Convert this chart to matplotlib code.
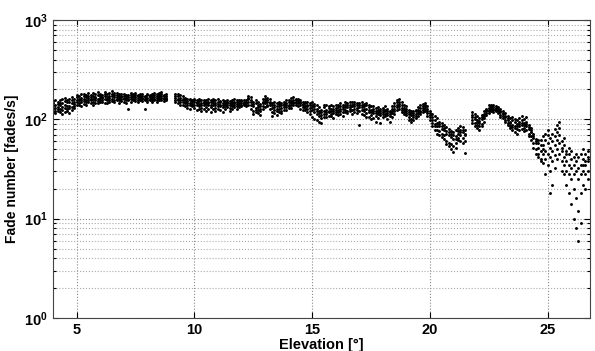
import matplotlib
matplotlib.use("Agg")
import matplotlib.pyplot as plt
import numpy as np

plt.rcParams['font.family'] = ['Liberation Sans', 'DejaVu Sans']
plt.rcParams['font.weight'] = 'bold'
plt.rcParams['mathtext.default'] = 'bf'

# each row: elevation [deg], then the fade numbers read at that elevation
seg_low_elev = [
    [4.0, 128, 145, 118, 152, 136], [4.1, 140, 122, 158, 131, 115],
    [4.2, 133, 150, 120, 143, 126], [4.3, 118, 138, 155, 127, 146],
    [4.4, 145, 125, 112, 160, 134], [4.5, 130, 152, 140, 118, 163],
    [4.6, 148, 127, 158, 136, 121], [4.7, 137, 162, 129, 150, 116],
    [4.8, 155, 134, 145, 168, 124], [4.9, 142, 160, 130, 151, 137],
    [5.0, 150, 168, 138, 158, 176], [5.1, 162, 145, 172, 155, 140],
    [5.2, 157, 180, 148, 165, 137], [5.3, 170, 152, 160, 143, 182],
    [5.4, 148, 166, 175, 156, 139], [5.5, 163, 185, 150, 172, 158],
    [5.6, 176, 155, 168, 145, 162], [5.7, 160, 172, 150, 183, 141],
    [5.8, 168, 156, 178, 147, 163], [5.9, 152, 174, 161, 188, 145],
    [6.0, 170, 158, 182, 148, 165], [6.1, 163, 176, 150, 168, 157],
    [6.2, 178, 160, 146, 172, 188], [6.3, 155, 168, 181, 160, 145],
    [6.4, 172, 150, 165, 185, 158], [6.5, 160, 178, 152, 170, 192],
    [6.6, 167, 148, 176, 158, 183], [6.7, 175, 162, 155, 186, 168],
    [6.8, 158, 173, 145, 165, 180], [6.9, 182, 160, 170, 152, 166],
    [7.0, 165, 150, 178, 160, 172], [7.1, 170, 158, 146, 175, 163],
    [7.2, 156, 176, 128, 168, 160], [7.3, 175, 160, 168, 150, 183],
    [7.4, 162, 172, 155, 178, 166], [7.5, 168, 152, 175, 160, 185],
    [7.6, 158, 170, 163, 148, 176], [7.7, 173, 160, 180, 166, 155],
    [7.8, 165, 178, 152, 170, 160], [7.9, 160, 127, 172, 155, 168],
    [8.0, 176, 163, 158, 182, 150], [8.1, 162, 170, 155, 176, 166],
    [8.2, 170, 158, 180, 163, 150], [8.3, 166, 175, 160, 186, 155],
    [8.4, 158, 172, 165, 150, 178], [8.5, 175, 162, 168, 183, 156],
    [8.6, 163, 178, 155, 170, 188], [8.7, 170, 160, 176, 152, 165],
    [8.8, 165, 158, 172, 180, 160],
]

seg_mid_elev = [
    [9.2, 165, 150, 178, 158, 170], [9.3, 158, 172, 145, 162, 182],
    [9.4, 150, 165, 140, 175, 155], [9.5, 162, 148, 170, 155, 138],
    [9.6, 145, 158, 135, 165, 150], [9.7, 152, 140, 160, 130, 146],
    [9.8, 138, 155, 145, 162, 128], [9.9, 148, 135, 158, 142, 152],
    [10.0, 140, 155, 130, 148, 162], [10.1, 150, 138, 145, 158, 125],
    [10.2, 135, 152, 142, 128, 160], [10.3, 146, 130, 155, 140, 122],
    [10.4, 138, 150, 128, 145, 158], [10.5, 142, 132, 155, 120, 148],
    [10.6, 150, 138, 145, 160, 128], [10.7, 132, 148, 140, 155, 118],
    [10.8, 145, 128, 152, 138, 160], [10.9, 138, 155, 130, 146, 122],
    [11.0, 150, 135, 142, 160, 128], [11.1, 140, 152, 125, 148, 135],
    [11.2, 132, 145, 155, 118, 140], [11.3, 148, 136, 128, 152, 142],
    [11.4, 138, 150, 132, 145, 158], [11.5, 145, 130, 152, 140, 122],
    [11.6, 136, 148, 142, 128, 155], [11.7, 150, 138, 145, 132, 160],
    [11.8, 142, 155, 135, 148, 128], [11.9, 148, 140, 158, 132, 145],
    [12.0, 140, 152, 145, 135, 155], [12.1, 150, 142, 138, 158, 146],
    [12.2, 145, 155, 140, 150, 136], [12.3, 160, 172, 150, 140, 165],
    [12.4, 155, 140, 128, 168, 148], [12.5, 135, 120, 150, 112, 142],
    [12.6, 145, 130, 118, 155, 125], [12.7, 138, 125, 148, 115, 132],
    [12.8, 128, 142, 120, 135, 110], [12.9, 150, 135, 160, 128, 145],
    [13.0, 145, 160, 132, 152, 170], [13.1, 155, 140, 165, 148, 135],
    [13.2, 150, 138, 160, 128, 145], [13.3, 130, 145, 118, 138, 108],
    [13.4, 125, 140, 132, 115, 148], [13.5, 135, 120, 145, 128, 110],
    [13.6, 142, 128, 150, 135, 118], [13.7, 130, 145, 122, 138, 115],
    [13.8, 138, 125, 148, 132, 142], [13.9, 145, 132, 155, 125, 140],
    [14.0, 140, 150, 130, 158, 135], [14.1, 152, 138, 145, 165, 130],
    [14.2, 158, 145, 168, 138, 150], [14.3, 150, 162, 140, 155, 145],
    [14.4, 145, 155, 135, 148, 160], [14.5, 138, 150, 128, 145, 155],
    [14.6, 142, 132, 148, 125, 138], [14.7, 135, 145, 125, 150, 130],
    [14.8, 140, 128, 150, 118, 135], [14.9, 130, 145, 112, 138, 122],
    [15.0, 125, 140, 105, 132, 150], [15.1, 118, 135, 128, 100, 142],
    [15.2, 128, 112, 138, 120, 98], [15.3, 108, 122, 132, 95, 115],
    [15.4, 110, 92, 125, 118, 102], [15.5, 120, 105, 132, 112, 140],
    [15.6, 125, 112, 138, 118, 105], [15.7, 118, 130, 108, 135, 122],
    [15.8, 128, 112, 140, 120, 108], [15.9, 122, 135, 115, 128, 104],
    [16.0, 130, 118, 140, 112, 125], [16.1, 125, 138, 110, 132, 118],
    [16.2, 135, 120, 145, 128, 112], [16.3, 128, 140, 118, 132, 108],
    [16.4, 138, 125, 148, 118, 132], [16.5, 132, 145, 122, 138, 115],
    [16.6, 140, 128, 150, 132, 120], [16.7, 135, 148, 125, 140, 112],
    [16.8, 128, 142, 118, 135, 150], [16.9, 138, 125, 145, 115, 130],
    [17.0, 132, 145, 120, 88, 138], [17.1, 125, 140, 112, 132, 148],
    [17.2, 135, 120, 142, 110, 128], [17.3, 128, 138, 115, 145, 105],
    [17.4, 118, 132, 105, 125, 138], [17.5, 125, 110, 135, 118, 100],
    [17.6, 115, 128, 102, 122, 135], [17.7, 120, 108, 130, 95, 115],
    [17.8, 112, 125, 118, 132, 104], [17.9, 122, 110, 128, 115, 92],
    [18.0, 118, 130, 105, 125, 112], [18.1, 125, 112, 135, 120, 108],
    [18.2, 115, 128, 100, 122, 110], [18.3, 120, 108, 118, 95, 112],
    [18.4, 128, 115, 135, 122, 105], [18.5, 135, 120, 145, 128, 112],
    [18.6, 140, 155, 125, 148, 132], [18.7, 150, 135, 160, 128, 142],
    [18.8, 138, 125, 148, 130, 118], [18.9, 130, 118, 138, 112, 125],
    [19.0, 122, 135, 110, 128, 115], [19.1, 118, 105, 125, 112, 98],
    [19.2, 110, 122, 100, 115, 95], [19.3, 115, 105, 120, 98, 110],
    [19.4, 120, 108, 112, 102, 125], [19.5, 125, 115, 132, 108, 120],
    [19.6, 130, 118, 138, 122, 112], [19.7, 135, 125, 142, 118, 130],
    [19.8, 140, 128, 132, 120, 145], [19.9, 128, 115, 135, 108, 122],
    [20.0, 115, 105, 122, 98, 110], [20.1, 105, 92, 112, 85, 98],
    [20.2, 98, 85, 108, 78, 90], [20.3, 92, 78, 102, 72, 85],
    [20.4, 86, 95, 70, 90, 76], [20.5, 80, 92, 66, 85, 72],
    [20.6, 78, 88, 64, 82, 70], [20.7, 72, 84, 60, 76, 56],
    [20.8, 70, 80, 58, 74, 54], [20.9, 66, 76, 56, 72, 50],
    [21.0, 64, 74, 54, 70, 47], [21.1, 68, 78, 58, 64, 52],
    [21.2, 72, 82, 62, 76, 65], [21.3, 78, 70, 86, 60, 74],
    [21.4, 74, 84, 65, 58, 78], [21.5, 70, 78, 60, 46, 72],
]

seg_high_elev = [
    [21.8, 110, 98, 118, 92, 105], [21.9, 105, 92, 112, 85, 100],
    [22.0, 98, 88, 108, 82, 95], [22.1, 92, 85, 102, 78, 96],
    [22.2, 100, 110, 90, 105, 85], [22.3, 112, 102, 120, 108, 95],
    [22.4, 120, 128, 110, 125, 115], [22.5, 130, 122, 138, 125, 115],
    [22.6, 135, 128, 140, 122, 132], [22.7, 132, 138, 125, 128, 118],
    [22.8, 128, 135, 120, 130, 125], [22.9, 125, 132, 115, 128, 120],
    [23.0, 118, 128, 110, 122, 105], [23.1, 112, 120, 102, 115, 108],
    [23.2, 105, 115, 95, 108, 98], [23.3, 98, 108, 88, 102, 92],
    [23.4, 92, 102, 82, 95, 86], [23.5, 88, 98, 78, 105, 84],
    [23.6, 85, 95, 75, 100, 82], [23.7, 90, 80, 98, 72, 86],
    [23.8, 95, 85, 102, 78, 90], [23.9, 88, 98, 80, 108, 92],
    [24.0, 92, 82, 100, 76, 88], [24.1, 85, 95, 78, 105, 90],
    [24.2, 80, 72, 88, 68, 84], [24.3, 75, 68, 82, 62, 78],
    [24.4, 65, 58, 72, 52, 68], [24.5, 58, 50, 64, 45, 60],
    [24.6, 52, 45, 58, 42, 62], [24.7, 48, 40, 55, 38, 62],
    [24.8, 55, 45, 68, 36, 50], [24.9, 62, 48, 72, 40, 28],
    [25.0, 58, 70, 45, 78, 35], [25.1, 52, 65, 42, 30, 18],
    [25.2, 60, 48, 72, 38, 22], [25.3, 55, 68, 44, 80, 32],
    [25.4, 62, 75, 50, 88, 40], [25.5, 70, 58, 82, 45, 95],
    [25.6, 48, 38, 60, 30, 52], [25.7, 42, 55, 35, 28, 65],
    [25.8, 38, 48, 30, 22, 45], [25.9, 45, 35, 52, 28, 18],
    [26.0, 40, 32, 48, 25, 14], [26.1, 35, 28, 42, 20, 10],
    [26.2, 38, 30, 45, 16, 8], [26.3, 42, 32, 25, 12, 6],
    [26.4, 35, 45, 28, 18, 9], [26.5, 40, 30, 50, 22, 35],
    [26.6, 45, 35, 28, 38, 20], [26.7, 38, 48, 30, 42, 25],
]

x_ticks = [5, 10, 15, 20, 25]

fig = plt.figure(figsize=(5.95, 3.51), dpi=100)
ax = fig.add_axes([0.089, 0.094, 0.9026, 0.849])

for seg in [seg_low_elev, seg_mid_elev, seg_high_elev]:
    rows = np.array(seg, dtype=float)
    n = rows.shape[1] - 1
    ax.plot(np.repeat(rows[:, 0], n), rows[:, 1:].ravel(), 'k.',
            markersize=4.2, markeredgewidth=0)

ax.set_yscale('log')
ax.set_xlim(4, 26.8)
ax.set_ylim(1, 1000)
ax.set_xticks(x_ticks)

ax.grid(True, which='major', linestyle=':', color='#888888', linewidth=0.8)
ax.grid(True, which='minor', axis='y', linestyle=':', color='#aaaaaa', linewidth=0.8)
ax.tick_params(which='both', direction='in', top=True, right=True,
               labelsize=10.5, width=0.8)
ax.tick_params(which='major', length=4)
ax.tick_params(which='minor', length=2.5)
for lbl in ax.get_xticklabels() + ax.get_yticklabels():
    lbl.set_fontweight('bold')
for s in ax.spines.values():
    s.set_color('#444444')

ax.set_xlabel('Elevation [°]', fontsize=10.5, fontweight='bold', labelpad=1)
ax.set_ylabel('Fade number [fades/s]', fontsize=10, fontweight='bold', labelpad=4)

fig.savefig('out.png', dpi=100)
